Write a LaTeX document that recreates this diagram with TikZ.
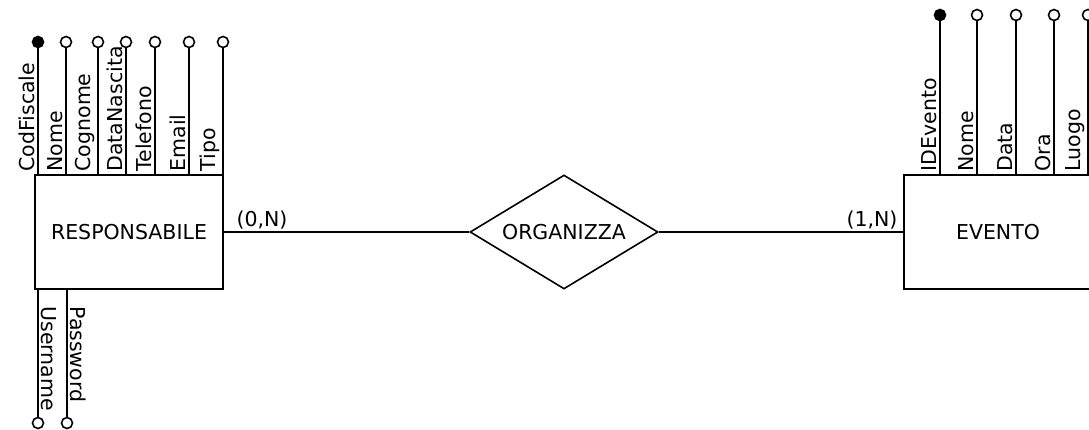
\documentclass[tikz,border=0pt]{standalone}
\usepackage{fontspec}
\setmainfont{DejaVu Sans}
\usetikzlibrary{shapes.geometric,positioning}
\tikzset{ent/.style={draw, line width=1.6pt, minimum width=188pt, minimum height=114pt, inner sep=0pt},
  rel/.style={draw, line width=1.6pt, shape=diamond, aspect=1.65, minimum width=188pt, minimum height=114pt, inner sep=0pt},
  attr/.style={draw, circle, line width=1.6pt, fill=white, minimum size=11pt, inner sep=0pt},
  keyattr/.style={attr, fill=black},
  lbl/.style={inner sep=2pt, anchor=south west}}

\begin{document}
\begin{tikzpicture}[x=1pt, y=-1pt, font=\fontsize{20.5}{24}\selectfont, line width=1.6pt]
  \useasboundingbox (0,0) rectangle (1089,429);
  \node[ent] (resp) at (129,232) {RESPONSABILE};
  \node[rel] (org) at (564,232) {ORGANIZZA};
  \node[ent] (ev) at (998,232) {EVENTO};
  \draw (resp.east) -- (org.west);
  \draw (org.east) -- (ev.west);
  \node[anchor=south west, xshift=10pt, inner sep=2pt] (card1) at (resp.east) {(0,N)};
  \node[anchor=south east, xshift=-3pt, inner sep=2pt] (card2) at (ev.west) {(1,N)};
  % attributi di RESPONSABILE
  \foreach \n/\x/\s/\t in {r1/38/keyattr/CodFiscale, r2/66/attr/Nome, r3/98/attr/Cognome,
      r4/126/attr/DataNascita, r5/155/attr/Telefono, r6/189/attr/Email, r7/223/attr/Tipo}{
    \node[\s] (\n) at (\x,42) {};
    \draw (\n) -- (\n |- resp.north);
    \node[lbl, rotate=90] (\n l) at (\n |- resp.north) {\t};
  }
  \foreach \n/\x/\t in {b1/38/Username, b2/67/Password}{
    \node[attr] (\n) at (\x,423) {};
    \draw (\n) -- (\n |- resp.south);
    \node[lbl, rotate=-90] (\n l) at ([yshift=-14pt]\n |- resp.south) {\t};
  }
  % attributi di EVENTO
  \foreach \n/\x/\s/\t in {e1/940/keyattr/IDEvento, e2/977/attr/Nome, e3/1016/attr/Data,
      e4/1054/attr/Ora, e5/1088/attr/Luogo}{
    \node[\s] (\n) at (\x,15) {};
    \draw (\n) -- (\n |- ev.north);
    \node[lbl, rotate=90] (\n l) at (\n |- ev.north) {\t};
  }
\end{tikzpicture}
\end{document}
